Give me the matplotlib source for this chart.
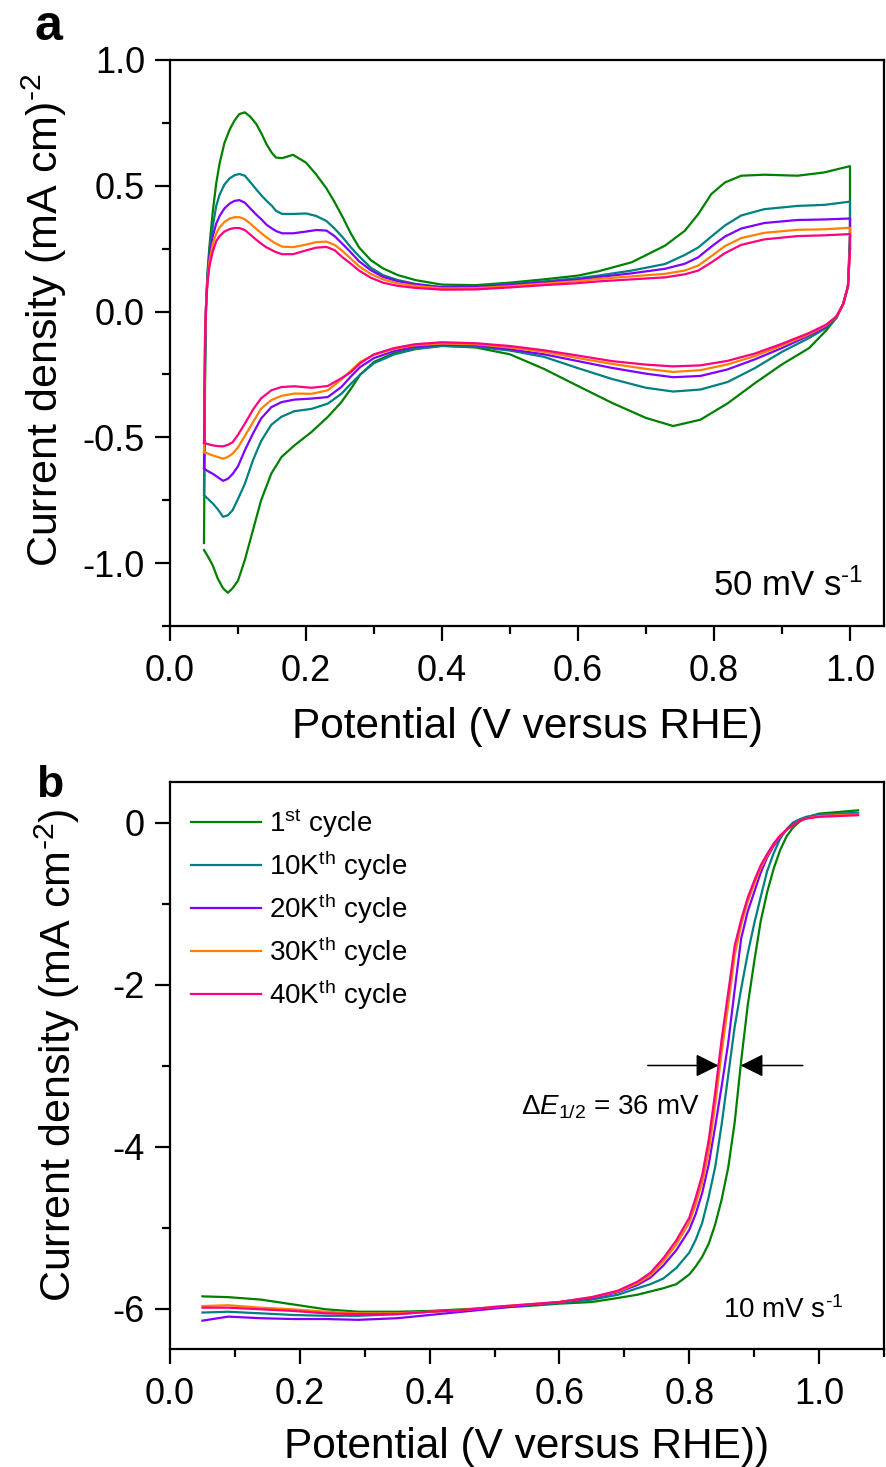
import numpy as np
import matplotlib
matplotlib.use("Agg")
import matplotlib.pyplot as plt
from matplotlib.ticker import MultipleLocator, FormatStrFormatter, FixedLocator

plt.rcParams['font.family'] = ['Liberation Sans', 'DejaVu Sans']
plt.rcParams['mathtext.fontset'] = 'custom'
plt.rcParams['mathtext.rm'] = 'Liberation Sans'
plt.rcParams['mathtext.it'] = 'Liberation Sans:italic'
plt.rcParams['mathtext.default'] = 'regular'
plt.rcParams['axes.unicode_minus'] = False

# ---------------- data ----------------
labels = ["1$^{st}$ cycle", "10K$^{th}$ cycle", "20K$^{th}$ cycle",
          "30K$^{th}$ cycle", "40K$^{th}$ cycle"]
colors = ["#008000", "#008080", "#8000FF", "#FF8000", "#FF0080"]

# Panel a: cyclic voltammograms -- anodic branch (ascending potential)
cv_E_anodic = [0.050, 0.0515, 0.053, 0.055, 0.058, 0.063, 0.068, 0.073, 0.080, 0.088,
               0.095, 0.102, 0.110, 0.118, 0.127, 0.135, 0.142, 0.150, 0.156, 0.165,
               0.181, 0.200, 0.215, 0.230, 0.242, 0.254, 0.266, 0.278, 0.295, 0.313,
               0.335, 0.361, 0.400, 0.450, 0.500, 0.550, 0.600, 0.630, 0.679, 0.728,
               0.757, 0.777, 0.796, 0.816, 0.840, 0.874, 0.923, 0.962, 1.000]
cv_j_anodic_1st = [-0.92, -0.30, 0.02, 0.15, 0.26, 0.40, 0.51, 0.59, 0.67, 0.725,
                   0.76, 0.785, 0.792, 0.775, 0.745, 0.705, 0.665, 0.630, 0.612, 0.610,
                   0.623, 0.592, 0.545, 0.490, 0.435, 0.375, 0.31, 0.255, 0.205, 0.172,
                   0.145, 0.125, 0.107, 0.105, 0.115, 0.128, 0.143, 0.160, 0.196, 0.262,
                   0.321, 0.388, 0.467, 0.513, 0.540, 0.544, 0.540, 0.553, 0.578]
cv_j_anodic_10k = [-0.72, -0.20, 0.02, 0.14, 0.24, 0.34, 0.42, 0.465, 0.505, 0.53,
                   0.542, 0.547, 0.54, 0.515, 0.485, 0.46, 0.44, 0.42, 0.40, 0.388,
                   0.388, 0.39, 0.38, 0.36, 0.33, 0.295, 0.255, 0.22, 0.175, 0.145,
                   0.125, 0.11, 0.097, 0.099, 0.11, 0.12, 0.133, 0.143, 0.163, 0.189,
                   0.225, 0.255, 0.298, 0.342, 0.382, 0.407, 0.42, 0.424, 0.437]
cv_j_anodic_20k = [-0.62, -0.15, 0.02, 0.13, 0.22, 0.30, 0.35, 0.38, 0.41, 0.43,
                   0.44, 0.443, 0.433, 0.41, 0.385, 0.365, 0.345, 0.33, 0.32, 0.311,
                   0.311, 0.318, 0.324, 0.322, 0.30, 0.268, 0.235, 0.20, 0.165, 0.138,
                   0.12, 0.108, 0.096, 0.097, 0.106, 0.116, 0.127, 0.137, 0.152, 0.17,
                   0.19, 0.216, 0.258, 0.298, 0.33, 0.352, 0.364, 0.366, 0.37]
cv_j_anodic_30k = [-0.56, -0.12, 0.02, 0.12, 0.20, 0.27, 0.31, 0.335, 0.356, 0.37,
                   0.375, 0.375, 0.367, 0.35, 0.328, 0.31, 0.295, 0.28, 0.27, 0.258,
                   0.256, 0.266, 0.276, 0.278, 0.265, 0.24, 0.21, 0.18, 0.15, 0.128,
                   0.112, 0.102, 0.092, 0.093, 0.101, 0.111, 0.121, 0.13, 0.14, 0.15,
                   0.163, 0.183, 0.22, 0.26, 0.292, 0.313, 0.325, 0.327, 0.333]
cv_j_anodic_40k = [-0.52, -0.10, 0.02, 0.11, 0.18, 0.24, 0.28, 0.30, 0.318, 0.328,
                   0.332, 0.332, 0.324, 0.306, 0.285, 0.268, 0.255, 0.244, 0.236, 0.228,
                   0.228, 0.243, 0.254, 0.257, 0.244, 0.215, 0.19, 0.163, 0.135, 0.115,
                   0.102, 0.094, 0.087, 0.088, 0.096, 0.105, 0.113, 0.12, 0.128, 0.136,
                   0.148, 0.163, 0.195, 0.232, 0.265, 0.287, 0.30, 0.303, 0.308]

# cathodic branch (values listed at ascending potential; scanned from 1.0 V downwards)
cv_E_cathodic = [0.050, 0.056, 0.063, 0.070, 0.078, 0.085, 0.092, 0.100, 0.110, 0.122,
                 0.134, 0.149, 0.164, 0.183, 0.208, 0.232, 0.252, 0.266, 0.280, 0.300,
                 0.330, 0.360, 0.400, 0.450, 0.500, 0.550, 0.600, 0.650, 0.700, 0.740,
                 0.780, 0.820, 0.860, 0.900, 0.940, 0.965, 0.980, 0.990, 0.997, 1.000]
cv_j_cathodic_1st = [-0.948, -0.975, -1.01, -1.06, -1.10, -1.118, -1.10, -1.07, -0.988, -0.869,
                     -0.750, -0.644, -0.578, -0.532, -0.479, -0.419, -0.360, -0.307, -0.25, -0.20,
                     -0.165, -0.147, -0.136, -0.143, -0.17, -0.228, -0.296, -0.363, -0.423, -0.455,
                     -0.43, -0.365, -0.285, -0.21, -0.145, -0.075, -0.025, 0.03, 0.10, 0.30]
cv_j_cathodic_10k = [-0.730, -0.745, -0.763, -0.785, -0.816, -0.81, -0.79, -0.745, -0.685, -0.591,
                     -0.515, -0.45, -0.418, -0.396, -0.387, -0.366, -0.327, -0.287, -0.25, -0.205,
                     -0.17, -0.15, -0.137, -0.14, -0.155, -0.18, -0.225, -0.268, -0.303, -0.318,
                     -0.31, -0.28, -0.225, -0.16, -0.105, -0.065, -0.025, 0.03, 0.10, 0.30]
cv_j_cathodic_20k = [-0.624, -0.635, -0.645, -0.658, -0.673, -0.665, -0.646, -0.615, -0.552, -0.485,
                     -0.425, -0.38, -0.36, -0.35, -0.346, -0.34, -0.30, -0.258, -0.22, -0.185,
                     -0.157, -0.14, -0.131, -0.134, -0.15, -0.17, -0.197, -0.224, -0.247, -0.261,
                     -0.256, -0.23, -0.19, -0.145, -0.095, -0.06, -0.02, 0.03, 0.10, 0.25]
cv_j_cathodic_30k = [-0.558, -0.565, -0.572, -0.578, -0.585, -0.578, -0.565, -0.54, -0.495, -0.44,
                     -0.386, -0.352, -0.335, -0.326, -0.327, -0.313, -0.27, -0.235, -0.20, -0.172,
                     -0.148, -0.134, -0.127, -0.13, -0.143, -0.16, -0.185, -0.208, -0.228, -0.24,
                     -0.233, -0.21, -0.177, -0.135, -0.09, -0.055, -0.02, 0.03, 0.10, 0.25]
cv_j_cathodic_40k = [-0.522, -0.527, -0.532, -0.535, -0.536, -0.53, -0.52, -0.49, -0.446, -0.39,
                     -0.345, -0.313, -0.300, -0.297, -0.303, -0.296, -0.265, -0.241, -0.205, -0.17,
                     -0.145, -0.13, -0.122, -0.126, -0.137, -0.154, -0.175, -0.197, -0.211, -0.218,
                     -0.214, -0.196, -0.167, -0.128, -0.085, -0.052, -0.02, 0.03, 0.10, 0.25]

# Panel b: ORR polarisation curves
lsv_E = [0.05, 0.09, 0.14, 0.19, 0.24, 0.29, 0.35, 0.40, 0.45, 0.50,
         0.55, 0.60, 0.65, 0.69, 0.72, 0.74, 0.76, 0.78, 0.80, 0.81,
         0.82, 0.83, 0.84, 0.85, 0.86, 0.87, 0.88, 0.89, 0.90, 0.91,
         0.92, 0.93, 0.94, 0.95, 0.96, 0.97, 0.98, 1.00, 1.03, 1.06]
lsv_j_1st = [-5.85, -5.86, -5.89, -5.95, -6.01, -6.04, -6.04, -6.03, -6.01, -5.99,
             -5.97, -5.94, -5.92, -5.87, -5.83, -5.79, -5.75, -5.70, -5.58, -5.48,
             -5.36, -5.20, -4.96, -4.65, -4.26, -3.70, -2.94, -2.26, -1.72, -1.22,
             -0.86, -0.57, -0.34, -0.17, -0.06, 0.01, 0.06, 0.11, 0.13, 0.15]
lsv_j_10k = [-6.05, -6.04, -6.06, -6.08, -6.09, -6.09, -6.07, -6.04, -6.02, -5.99,
             -5.96, -5.93, -5.89, -5.83, -5.75, -5.70, -5.63, -5.50, -5.31, -5.15,
             -4.94, -4.62, -4.25, -3.72, -3.12, -2.52, -2.05, -1.62, -1.25, -0.92,
             -0.60, -0.38, -0.20, -0.08, 0.00, 0.04, 0.07, 0.10, 0.11, 0.12]
lsv_j_20k = [-6.15, -6.10, -6.12, -6.13, -6.13, -6.14, -6.12, -6.08, -6.04, -6.00,
             -5.96, -5.92, -5.87, -5.80, -5.71, -5.62, -5.47, -5.28, -5.03, -4.83,
             -4.57, -4.22, -3.75, -3.25, -2.72, -2.06, -1.43, -1.10, -0.86, -0.62,
             -0.43, -0.29, -0.18, -0.09, -0.02, 0.02, 0.05, 0.08, 0.09, 0.10]
lsv_j_30k = [-5.97, -5.96, -5.99, -6.01, -6.04, -6.06, -6.06, -6.04, -6.02, -5.98,
             -5.95, -5.92, -5.86, -5.79, -5.69, -5.59, -5.42, -5.21, -4.94, -4.71,
             -4.44, -4.06, -3.48, -2.83, -2.25, -1.64, -1.26, -0.98, -0.76, -0.56,
             -0.41, -0.27, -0.17, -0.09, -0.03, 0.02, 0.05, 0.08, 0.09, 0.10]
lsv_j_40k = [-5.99, -5.99, -6.01, -6.03, -6.06, -6.07, -6.07, -6.04, -6.02, -5.98,
             -5.95, -5.92, -5.86, -5.78, -5.67, -5.56, -5.38, -5.16, -4.88, -4.63,
             -4.35, -3.92, -3.33, -2.67, -2.10, -1.52, -1.20, -0.93, -0.72, -0.53,
             -0.39, -0.26, -0.16, -0.09, -0.03, 0.02, 0.05, 0.07, 0.08, 0.09]

cv_anodic = [cv_j_anodic_1st, cv_j_anodic_10k, cv_j_anodic_20k, cv_j_anodic_30k, cv_j_anodic_40k]
cv_cathodic = [cv_j_cathodic_1st, cv_j_cathodic_10k, cv_j_cathodic_20k, cv_j_cathodic_30k, cv_j_cathodic_40k]
lsv = [lsv_j_1st, lsv_j_10k, lsv_j_20k, lsv_j_30k, lsv_j_40k]

# ---------------- figure ----------------
W, H = 886, 1467
fig = plt.figure(figsize=(W / 100, H / 100), dpi=100)

def px_axes(l, t, r, b):
    return fig.add_axes([l / W, 1 - b / H, (r - l) / W, (b - t) / H])

axa = px_axes(170, 60, 884, 626)
axb = px_axes(170, 782, 884, 1349)

TICK_FS = 26
XLABEL_FS = 30.5

def style(ax):
    for s in ax.spines.values():
        s.set_linewidth(1.6)
    ax.tick_params(which='major', direction='out', length=11, width=1.6,
                   labelsize=TICK_FS, top=False, right=False)
    ax.tick_params(which='minor', direction='out', length=5.5, width=1.6,
                   top=False, right=False)
    ax.tick_params(axis='x', which='major', pad=9)
    ax.tick_params(axis='y', which='major', pad=7)

SUP_M2 = r'$^{\text{-}2}$'
SUP_M1 = r'$^{\text{-}1}$'

# ---- panel a ----
for ja, jc, c in zip(cv_anodic, cv_cathodic, colors):
    x = list(cv_E_anodic) + list(cv_E_cathodic[::-1])
    y = list(ja) + list(jc[::-1])
    axa.plot(x, y, color=c, lw=1.6)
axa.set_xlim(0.0, 1.05)
axa.set_ylim(-1.25, 1.0)
axa.xaxis.set_major_locator(MultipleLocator(0.2))
axa.xaxis.set_minor_locator(MultipleLocator(0.1))
axa.yaxis.set_major_locator(MultipleLocator(0.5))
axa.yaxis.set_minor_locator(MultipleLocator(0.25))
axa.xaxis.set_major_formatter(FormatStrFormatter('%.1f'))
axa.yaxis.set_major_formatter(FormatStrFormatter('%.1f'))
style(axa)
axa.set_xlabel('Potential (V versus RHE)', fontsize=XLABEL_FS, labelpad=13)
axa.set_ylabel('Current density (mA cm)' + SUP_M2, fontsize=31)
axa.yaxis.set_label_coords(-0.141, 0.541)
axa.text(1.02, -1.13, '50 mV s' + SUP_M1, fontsize=25, ha='right', va='baseline')

# ---- panel b ----
for j, c, lab in zip(lsv, colors, labels):
    axb.plot(lsv_E, j, color=c, lw=1.6, label=lab)
axb.set_xlim(0.0, 1.1)
axb.set_ylim(-6.5, 0.5)
axb.xaxis.set_major_locator(MultipleLocator(0.2))
axb.xaxis.set_minor_locator(MultipleLocator(0.1))
axb.yaxis.set_major_locator(FixedLocator([-6, -4, -2, 0]))
axb.yaxis.set_minor_locator(FixedLocator([-5, -3, -1]))
axb.xaxis.set_major_formatter(FormatStrFormatter('%.1f'))
axb.yaxis.set_major_formatter(FormatStrFormatter('%d'))
style(axb)
axb.set_xlabel('Potential (V versus RHE))', fontsize=XLABEL_FS, labelpad=11)
axb.set_ylabel('Current density (mA cm' + SUP_M2 + ')', fontsize=31)
axb.yaxis.set_label_coords(-0.123, 0.519)
axb.text(1.037, -6.12, '10 mV s' + SUP_M1, fontsize=20, ha='right', va='baseline')

leg = axb.legend(loc='upper left', bbox_to_anchor=(0.03, 0.957), frameon=False,
                 fontsize=20, handlelength=2.5, handletextpad=0.3,
                 labelspacing=0.3, borderpad=0, borderaxespad=0)

arrow_kw = dict(arrowstyle='-|>,head_length=0.7,head_width=0.35', color='k',
                lw=1.1, mutation_scale=20, shrinkA=0, shrinkB=0)
axb.annotate('', xy=(0.845, -3.0), xytext=(0.736, -3.0), arrowprops=arrow_kw)
axb.annotate('', xy=(0.879, -3.0), xytext=(0.975, -3.0), arrowprops=arrow_kw)
axb.text(0.815, -3.6, r'$\Delta\mathit{E}_{1/2}$ = 36 mV', fontsize=20,
         ha='right', va='baseline')

fig.text(35 / W, 1 - 40 / H, 'a', fontsize=36, fontweight='bold', va='baseline')
fig.text(36 / W, 1 - 797 / H, 'b', fontsize=32, fontweight='bold', va='baseline')

fig.savefig('out.png', dpi=100)
